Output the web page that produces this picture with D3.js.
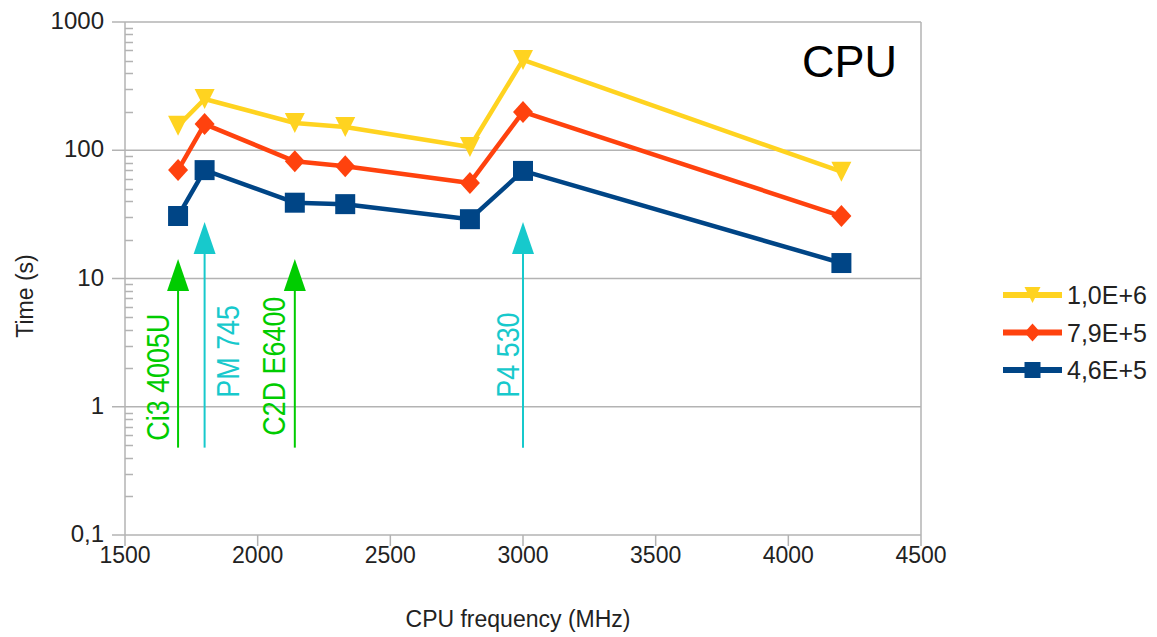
<!DOCTYPE html>
<html>
<head>
<meta charset="utf-8">
<script src="https://cdn.jsdelivr.net/npm/d3@7"></script>
<style>
  body { margin: 0; background: #fff; }
  text { font-family: "Liberation Sans", Arial, sans-serif; }
</style>
</head>
<body>
<div id="chart"></div>
<script>
// data
var freqs = [1700, 1800, 2140, 2330, 2800, 3000, 4200];
var seriesNames = ["1,0E+6", "7,9E+5", "4,6E+5"];
var timesA = [155, 251, 163, 152, 106, 506, 68];   // 1,0E+6
var timesB = [70, 160, 82, 75, 55.6, 199, 30.7];   // 7,9E+5
var timesC = [30.7, 70, 39, 38, 29, 69, 13.2];     // 4,6E+5
var xTicks = [1500, 2000, 2500, 3000, 3500, 4000, 4500];
var yTicks = [0.1, 1, 10, 100, 1000];

// cpu markers (arrows)
var cpuLabels = ["Ci3 4005U", "PM 745", "C2D E6400", "P4 530"];
var cpuFreqs = [1700, 1800, 2140, 3000];
var cpuTop = [14.2, 27.6, 14.2, 27.6];
var cpuBottom = [0.48, 0.48, 0.48, 0.48];
var cpuGroup = ["green", "cyan", "green", "cyan"];

var W = 1157, H = 637;
var margin = {top: 22, right: 236, bottom: 102, left: 125};
var width = W - margin.left - margin.right,
    height = H - margin.top - margin.bottom;

var svg = d3.select("#chart").append("svg")
    .attr("width", W)
    .attr("height", H);

var x = d3.scaleLinear().domain([1500, 4500]).range([margin.left, margin.left + width]),
    y = d3.scaleLog().domain([0.1, 1000]).range([margin.top + height, margin.top]);

var gridColor = "#b3b3b3";
var colors = ["#ffd320", "#ff420e", "#004586"];
var shapes = ["triDown", "diamond", "square"];
var arrowColors = {green: "#00cc00", cyan: "#17c9cc"};

// horizontal grid lines + outer major ticks
svg.append("g").selectAll("line")
    .data(yTicks)
    .enter().append("line")
    .attr("x1", margin.left - 13)
    .attr("x2", margin.left + width)
    .attr("y1", function(d) { return y(d); })
    .attr("y2", function(d) { return y(d); })
    .style("stroke", gridColor)
    .style("stroke-width", 1.5);

// minor ticks on the y axis (inside)
var minors = [];
yTicks.slice(0, -1).forEach(function(d) {
  for (var k = 2; k < 10; k++) minors.push(d * k);
});
svg.append("g").selectAll("line")
    .data(minors)
    .enter().append("line")
    .attr("x1", margin.left)
    .attr("x2", margin.left + 8)
    .attr("y1", function(d) { return Math.round(y(d)) + 0.5; })
    .attr("y2", function(d) { return Math.round(y(d)) + 0.5; })
    .style("stroke", gridColor)
    .style("stroke-width", 1.5);

// axis lines and plot border
svg.append("line")
    .attr("x1", margin.left).attr("x2", margin.left)
    .attr("y1", margin.top).attr("y2", margin.top + height)
    .style("stroke", gridColor).style("stroke-width", 1.5);
svg.append("line")
    .attr("x1", margin.left + width).attr("x2", margin.left + width)
    .attr("y1", margin.top).attr("y2", margin.top + height)
    .style("stroke", gridColor).style("stroke-width", 1.5);

// x ticks
svg.append("g").selectAll("line")
    .data(xTicks)
    .enter().append("line")
    .attr("x1", function(d) { return x(d); })
    .attr("x2", function(d) { return x(d); })
    .attr("y1", margin.top + height)
    .attr("y2", margin.top + height + 11)
    .style("stroke", gridColor)
    .style("stroke-width", 1.5);

svg.append("g").selectAll("text")
    .data(xTicks)
    .enter().append("text")
    .attr("x", function(d) { return x(d); })
    .attr("y", margin.top + height + 28)
    .attr("text-anchor", "middle")
    .style("font-size", "23px")
    .style("fill", "#222")
    .text(function(d) { return d; });

svg.append("g").selectAll("text")
    .data(yTicks)
    .enter().append("text")
    .attr("x", margin.left - 21)
    .attr("y", function(d) { return y(d) + 7; })
    .attr("text-anchor", "end")
    .style("font-size", "24px")
    .style("fill", "#222")
    .text(function(d) { return String(d).replace(".", ","); });

// axis titles
svg.append("text")
    .attr("x", 518)
    .attr("y", 627)
    .attr("text-anchor", "middle")
    .style("font-size", "23px")
    .style("fill", "#222")
    .text("CPU frequency (MHz)");

svg.append("text")
    .attr("transform", "translate(33,296) rotate(-90)")
    .attr("text-anchor", "middle")
    .style("font-size", "23px")
    .style("fill", "#222")
    .text("Time (s)");

// title
svg.append("text")
    .attr("x", 897)
    .attr("y", 77)
    .attr("text-anchor", "end")
    .style("font-size", "45px")
    .style("fill", "#000")
    .text("CPU");

// arrows with cpu names
var labelLayout = [
  {dx: -9, dy: -7},
  {dx: 34, dy: -50},
  {dx: -10, dy: -12},
  {dx: -4, dy: -50}
];
cpuLabels.forEach(function(name, i) {
  var cx = x(cpuFreqs[i]),
      yTop = y(cpuTop[i]),
      yBot = y(cpuBottom[i]),
      col = arrowColors[cpuGroup[i]];
  svg.append("line")
      .attr("x1", cx).attr("x2", cx)
      .attr("y1", yTop + 20).attr("y2", yBot)
      .style("stroke", col)
      .style("stroke-width", 2);
  svg.append("path")
      .attr("d", "M" + cx + "," + yTop + "L" + (cx + 11) + "," + (yTop + 32) + "L" + (cx - 11) + "," + (yTop + 32) + "Z")
      .style("fill", col);
  svg.append("text")
      .attr("transform", "translate(" + (cx + labelLayout[i].dx) + "," + (yBot + labelLayout[i].dy) + ") rotate(-90) scale(0.84,1)")
      .style("font-size", "32px")
      .style("fill", col)
      .text(name);
});

// marker symbols
function marker(sel, shape, size) {
  var h = size / 2, p;
  if (shape == "square") {
    p = "M" + (-h) + "," + (-h) + "H" + h + "V" + h + "H" + (-h) + "Z";
  } else if (shape == "diamond") {
    p = "M0," + (-h - 1) + "L" + h + ",0L0," + (h + 1) + "L" + (-h) + ",0Z";
  } else {
    p = "M" + (-h) + "," + (-h) + "H" + h + "L0," + h + "Z";
  }
  return sel.attr("d", p);
}

var allTimes = [timesA, timesB, timesC];
var line = d3.line()
    .x(function(d) { return x(d.f); })
    .y(function(d) { return y(d.t); });

allTimes.forEach(function(times, s) {
  var pts = freqs.map(function(f, i) { return {f: f, t: times[i]}; });
  var g = svg.append("g");
  g.append("path")
      .datum(pts)
      .attr("d", line)
      .style("fill", "none")
      .style("stroke", colors[s])
      .style("stroke-width", 4.5)
      .style("stroke-linejoin", "round");
  g.selectAll("path.pt")
      .data(pts)
      .enter().append("path")
      .attr("class", "pt")
      .attr("transform", function(d) { return "translate(" + x(d.f) + "," + y(d.t) + ")"; })
      .call(marker, shapes[s], 20)
      .style("fill", colors[s]);
});

// legend
var legend = svg.append("g").selectAll("g")
    .data(seriesNames)
    .enter().append("g")
    .attr("transform", function(d, i) { return "translate(1003," + (295 + i * 37.5) + ")"; });

legend.append("line")
    .attr("x1", 0).attr("x2", 59)
    .style("stroke", function(d, i) { return colors[i]; })
    .style("stroke-width", 6);
legend.append("path")
    .attr("transform", "translate(29.5,0)")
    .each(function(d, i) { marker(d3.select(this), shapes[i], 16); })
    .style("fill", function(d, i) { return colors[i]; });
legend.append("text")
    .attr("x", 64)
    .attr("y", 9)
    .style("font-size", "25px")
    .style("fill", "#222")
    .text(function(d) { return d; });
</script>
</body>
</html>
